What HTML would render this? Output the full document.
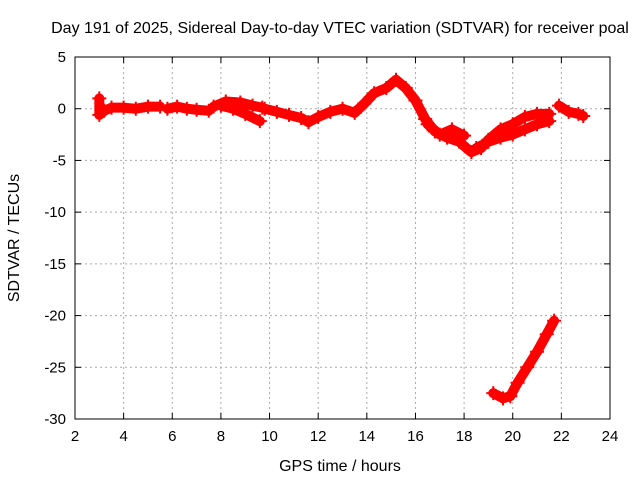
<!DOCTYPE html>
<html><head><meta charset="utf-8"><style>
body{margin:0;background:#fff}
svg{display:block;font-family:"Liberation Sans",sans-serif;font-size:15px}
</style></head><body>
<svg id="c" width="640" height="480">
<text x="340" y="33" text-anchor="middle" font-size="16">Day 191 of 2025, Sidereal Day-to-day VTEC variation (SDTVAR) for receiver poal</text>
<text x="340" y="471" text-anchor="middle" font-size="16">GPS time / hours</text>
<text transform="translate(19,238) rotate(-90)" text-anchor="middle" font-size="16">SDTVAR / TECUs</text>
<g id="grid"></g><g id="marks"></g>
<rect x="75" y="57" width="535" height="362" fill="none" stroke="#000"/>
</svg>
<script>
const xTicks=[2,4,6,8,10,12,14,16,18,20,22,24];
const yTicks=[5,0,-5,-10,-15,-20,-25,-30];
const trackA_t=[3.0,3.0,3.2,3.5,4,4.5,5,5.5];
const trackA_v=[1.0,-0.6,-0.2,0.1,0.1,0,0.2,0.2];
const trackB_t=[5.8,6.2,6.6,7,7.5];
const trackB_v=[0,0.2,0,-0.1,-0.2];
const trackC_t=[7.7,8.2,8.8,9.3,9.7];
const trackC_v=[0.2,0.7,0.6,0.3,0.1];
const trackC2_t=[8,8.5,9,9.6];
const trackC2_v=[0.3,0,-0.5,-1.2];
const trackD_t=[9.8,10.3,10.8,11.3,11.6,12,12.5,13,13.5,13.9,14.3,14.8,15.2,15.6,16,16.4,16.8,17.3,17.8,18.3,18.7,19,19.5,20,20.5,21,21.5];
const trackD_v=[0,-0.3,-0.6,-0.9,-1.3,-0.8,-0.3,0,-0.4,0.5,1.5,2,2.8,2,0.8,-1,-2.2,-2.8,-3.2,-4.2,-3.8,-3,-2,-1.5,-0.8,-0.5,-0.5];
const trackD2_t=[18.5,19,19.5,20,20.5,21,21.5];
const trackD2_v=[-3.8,-3.2,-2.8,-2.5,-2,-1.5,-1.2];
const trackD3_t=[16.5,17,17.5,18];
const trackD3_v=[-1.5,-2.5,-2,-2.6];
const trackE_t=[21.9,22.3,22.7,22.9];
const trackE_v=[0.3,-0.3,-0.5,-0.7];
const trackF_t=[19.2,19.6,19.9,20.2,20.6,21,21.4,21.7];
const trackF_v=[-27.5,-28,-27.8,-26.5,-25,-23.5,-21.8,-20.5];
const X=t=>75+(t-2)*535/22, Y=v=>57+(5-v)*362/35;
const NS="http://www.w3.org/2000/svg";
const g=document.getElementById('grid'), m=document.getElementById('marks');
function mk(p,tag,a){const e=document.createElementNS(NS,tag);for(const k in a)e.setAttribute(k,a[k]);p.appendChild(e);return e;}
xTicks.forEach(t=>{const x=X(t);
 if(t>2&&t<24){const l=mk(g,'line',{x1:x,x2:x,y1:57,y2:419,stroke:'#aaa','stroke-dasharray':'2,3'});
 
 }
 mk(g,'line',{x1:x,x2:x,y1:419,y2:413,stroke:'#000'});mk(g,'line',{x1:x,x2:x,y1:57,y2:63,stroke:'#000'});
 const tx=mk(g,'text',{x:x,y:441,'text-anchor':'middle'});tx.textContent=t;
 
 });
yTicks.forEach(v=>{const y=Y(v);
 if(v<5&&v>-30){const l=mk(g,'line',{x1:75,x2:610,y1:y,y2:y,stroke:'#aaa','stroke-dasharray':'2,3'});
 
 }
 mk(g,'line',{x1:75,x2:81,y1:y,y2:y,stroke:'#000'});mk(g,'line',{x1:610,x2:604,y1:y,y2:y,stroke:'#000'});
 const tx=mk(g,'text',{x:66,y:y+5,'text-anchor':'end'});tx.textContent=v;
 
 });
[[trackA_t,trackA_v],[trackB_t,trackB_v],[trackC_t,trackC_v],[trackC2_t,trackC2_v],[trackD_t,trackD_v],[trackD2_t,trackD2_v],[trackD3_t,trackD3_v],[trackE_t,trackE_v],[trackF_t,trackF_v]].forEach(([ts,vs])=>{
 const pts=ts.map((t,i)=>X(t)+','+Y(vs[i])).join(' ');
 const pl=mk(m,'polyline',{points:pts,fill:'none',stroke:'#f00','stroke-width':10,'stroke-linejoin':'round','stroke-linecap':'round'});
 
 
 ts.forEach((t,i)=>{const x=X(t),y=Y(vs[i]);
  const p=mk(m,'path',{d:`M${x-7},${y}h14M${x},${y-7}v14`,stroke:'#f00','stroke-width':2});
  
  });
});
</script>
</body></html>
